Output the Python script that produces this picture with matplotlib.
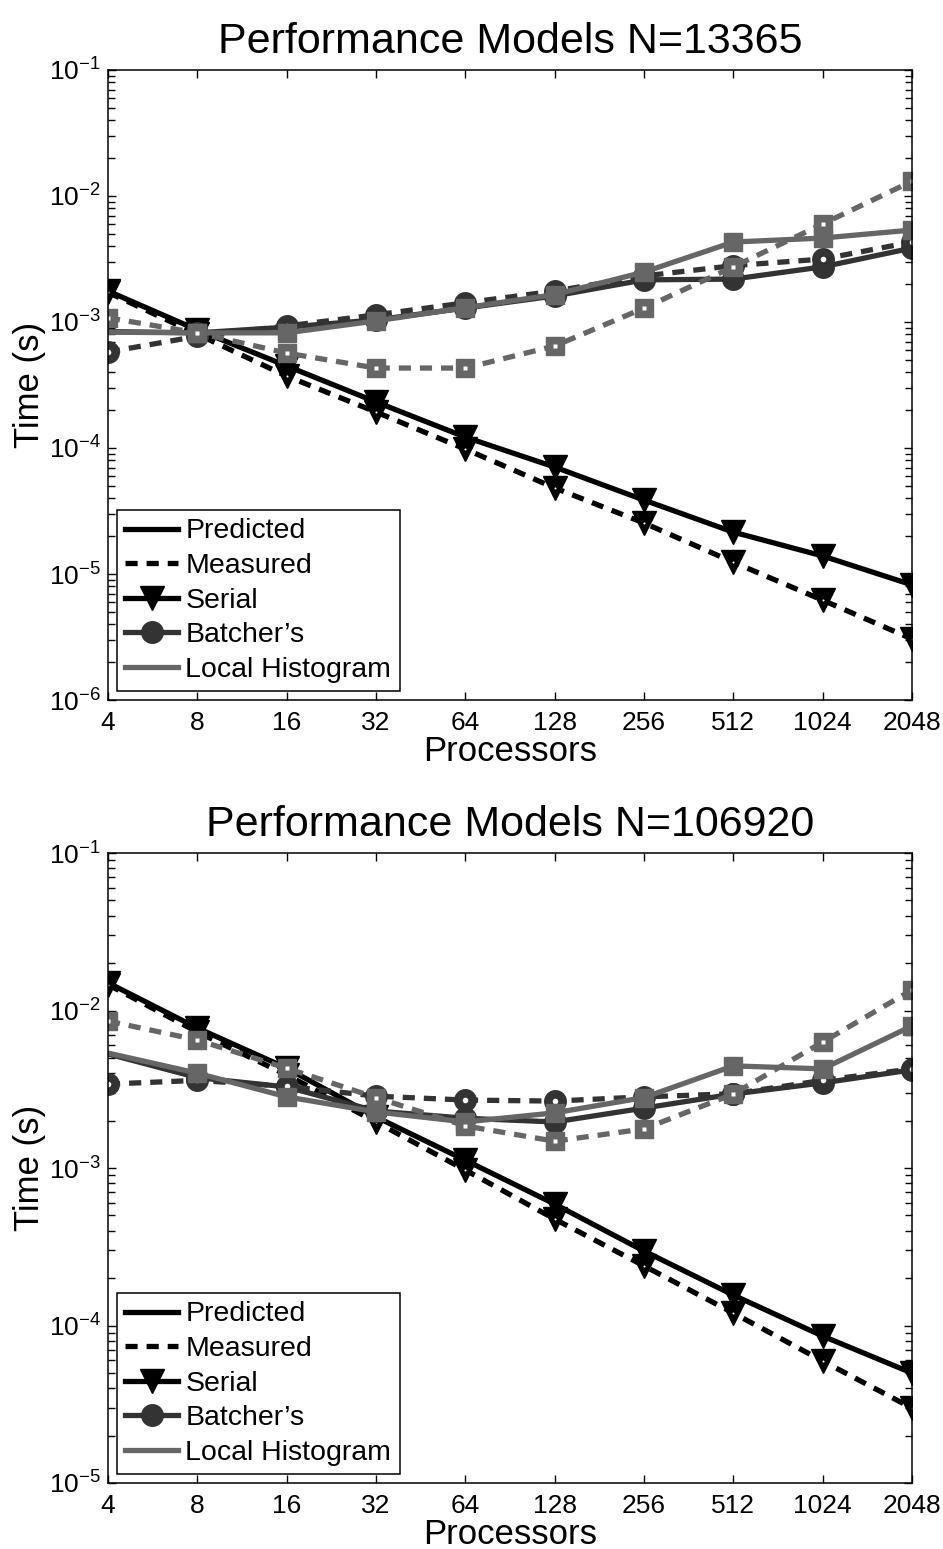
import numpy as np
import matplotlib
matplotlib.use("Agg")
import matplotlib.pyplot as plt
from matplotlib.lines import Line2D
from matplotlib.ticker import FixedLocator, FixedFormatter, LogLocator, NullFormatter, NullLocator

plt.rcParams['font.family'] = ['Liberation Sans', 'DejaVu Sans']
plt.rcParams['mathtext.fontset'] = 'custom'
plt.rcParams['mathtext.rm'] = 'Liberation Sans'

procs = [4, 8, 16, 32, 64, 128, 256, 512, 1024, 2048]
proc_labels = [str(p) for p in procs]

# ---- N = 13365 ----
serial_pred_13365 = [1.76e-3, 8.65e-4, 4.48e-4, 2.32e-4, 1.22e-4, 7.06e-5, 3.86e-5, 2.15e-5, 1.39e-5, 8.2e-6]
serial_meas_13365 = [1.72e-3, 8.0e-4, 3.72e-4, 1.93e-4, 9.8e-5, 4.82e-5, 2.54e-5, 1.24e-5, 6.2e-6, 3.05e-6]
batcher_pred_13365 = [8.4e-4, 8.2e-4, 9.1e-4, 1.04e-3, 1.29e-3, 1.61e-3, 2.16e-3, 2.19e-3, 2.74e-3, 3.86e-3]
batcher_meas_13365 = [5.78e-4, 7.7e-4, 9.3e-4, 1.14e-3, 1.42e-3, 1.76e-3, 2.32e-3, 2.8e-3, 3.16e-3, 4.31e-3]
hist_pred_13365 = [8.3e-4, 8.2e-4, 8.2e-4, 1.02e-3, 1.30e-3, 1.65e-3, 2.49e-3, 4.31e-3, 4.64e-3, 5.37e-3]
hist_meas_13365 = [1.08e-3, 8.2e-4, 5.67e-4, 4.31e-4, 4.31e-4, 6.45e-4, 1.29e-3, 2.74e-3, 6.0e-3, 1.31e-2]

# ---- N = 106920 ----
serial_pred_106920 = [1.50e-2, 7.74e-3, 4.31e-3, 2.11e-3, 1.12e-3, 5.9e-4, 2.97e-4, 1.56e-4, 8.57e-5, 4.99e-5]
serial_meas_106920 = [1.46e-2, 7.3e-3, 3.9e-3, 1.96e-3, 9.7e-4, 4.74e-4, 2.39e-4, 1.20e-4, 5.95e-5, 2.99e-5]
batcher_pred_106920 = [5.3e-3, 3.75e-3, 3.27e-3, 2.3e-3, 2.07e-3, 1.96e-3, 2.4e-3, 2.95e-3, 3.47e-3, 4.2e-3]
batcher_meas_106920 = [3.41e-3, 3.6e-3, 3.3e-3, 2.86e-3, 2.7e-3, 2.66e-3, 2.83e-3, 2.96e-3, 3.6e-3, 4.26e-3]
hist_pred_106920 = [5.37e-3, 4.0e-3, 2.83e-3, 2.27e-3, 1.96e-3, 2.24e-3, 2.8e-3, 4.45e-3, 4.26e-3, 7.98e-3]
hist_meas_106920 = [8.57e-3, 6.5e-3, 4.3e-3, 2.8e-3, 1.85e-3, 1.48e-3, 1.77e-3, 2.95e-3, 6.3e-3, 1.35e-2]

legend_labels = ['Predicted', 'Measured', 'Serial', "Batcher\u2019s", 'Local Histogram']

C_SERIAL = '#000000'
C_BATCHER = '#333333'
C_HIST = '#666666'
LW = 3.8
DASH = (2.3, 1.7)
MS_TRI, MS_CIRC, MS_SQ = 17, 15.5, 13.5


def draw_series(ax, pred, meas, color, marker, ms, hole, pred_skip_first):
    ax.plot(procs, pred, color=color, lw=LW, marker=marker, ms=ms, mfc=color, mec=color, mew=1,
            markevery=slice(1, None) if pred_skip_first else None, solid_capstyle='butt')
    ax.plot(procs, meas, color=color, lw=LW, ls=(0, DASH), marker=marker, ms=ms, mfc=color, mec=color,
            mew=1, dash_capstyle='butt')
    if hole:
        ax.plot(procs, meas, ls='none', marker=hole[0], ms=hole[1], mfc='white', mec='none')


def panel(ax, title, ylim, sp, sm, bp, bm, hp, hm):
    draw_series(ax, sp, sm, C_SERIAL, 'v', MS_TRI, ('o', 1.5), False)
    draw_series(ax, bp, bm, C_BATCHER, 'o', MS_CIRC, ('o', 4.0), True)
    draw_series(ax, hp, hm, C_HIST, 's', MS_SQ, ('s', 2.8), True)

    ax.set_xscale('log', base=2)
    ax.set_yscale('log')
    ax.set_xlim(procs[0], procs[-1])
    ax.set_ylim(*ylim)
    ax.xaxis.set_major_locator(FixedLocator(procs))
    ax.xaxis.set_major_formatter(FixedFormatter(proc_labels))
    ax.xaxis.set_minor_locator(NullLocator())
    ax.yaxis.set_major_locator(LogLocator(base=10, numticks=20))
    ax.yaxis.set_minor_locator(LogLocator(base=10, subs=np.arange(2, 10), numticks=20))
    ax.yaxis.set_minor_formatter(NullFormatter())
    ax.tick_params(which='both', direction='in', top=True, right=True, width=1, labelsize=19, pad=5)
    ax.tick_params(axis='x', which='major', pad=8)
    ax.tick_params(which='major', length=6)
    ax.tick_params(which='minor', length=5)
    for s in ax.spines.values():
        s.set_linewidth(1.1)

    ax.set_title(title, fontsize=31, pad=12)
    ax.set_xlabel('Processors', fontsize=25, labelpad=0)
    ax.set_ylabel('Time (s)', fontsize=25, labelpad=2)

    handles = [
        Line2D([], [], color='black', lw=LW),
        Line2D([], [], color='black', lw=LW, ls=(0, DASH), dash_capstyle='butt'),
        Line2D([], [], color=C_SERIAL, lw=LW, marker='v', ms=MS_TRI, mfc=C_SERIAL, mec=C_SERIAL),
        Line2D([], [], color=C_BATCHER, lw=LW, marker='o', ms=MS_CIRC, mfc=C_BATCHER, mec=C_BATCHER),
        Line2D([], [], color=C_HIST, lw=LW),
    ]
    leg = ax.legend(handles, legend_labels, loc='lower left', bbox_to_anchor=(0.011, 0.014),
                    borderaxespad=0, fontsize=20.5, frameon=True, fancybox=False, framealpha=1,
                    edgecolor='black', handlelength=1.85, handletextpad=0.25, labelspacing=0.3,
                    borderpad=0.3, numpoints=1)
    leg.get_frame().set_linewidth(1.1)


W, H = 943, 1549
fig = plt.figure(figsize=(W / 100, H / 100), dpi=100)
ax1 = fig.add_axes([108 / W, 1 - 700 / H, 804 / W, 630 / H])
ax2 = fig.add_axes([108 / W, 1 - 1483 / H, 804 / W, 630 / H])

panel(ax1, 'Performance Models N=13365', (1e-6, 1e-1),
      serial_pred_13365, serial_meas_13365, batcher_pred_13365, batcher_meas_13365,
      hist_pred_13365, hist_meas_13365)
panel(ax2, 'Performance Models N=106920', (1e-5, 1e-1),
      serial_pred_106920, serial_meas_106920, batcher_pred_106920, batcher_meas_106920,
      hist_pred_106920, hist_meas_106920)

fig.savefig('out.png', dpi=100)
